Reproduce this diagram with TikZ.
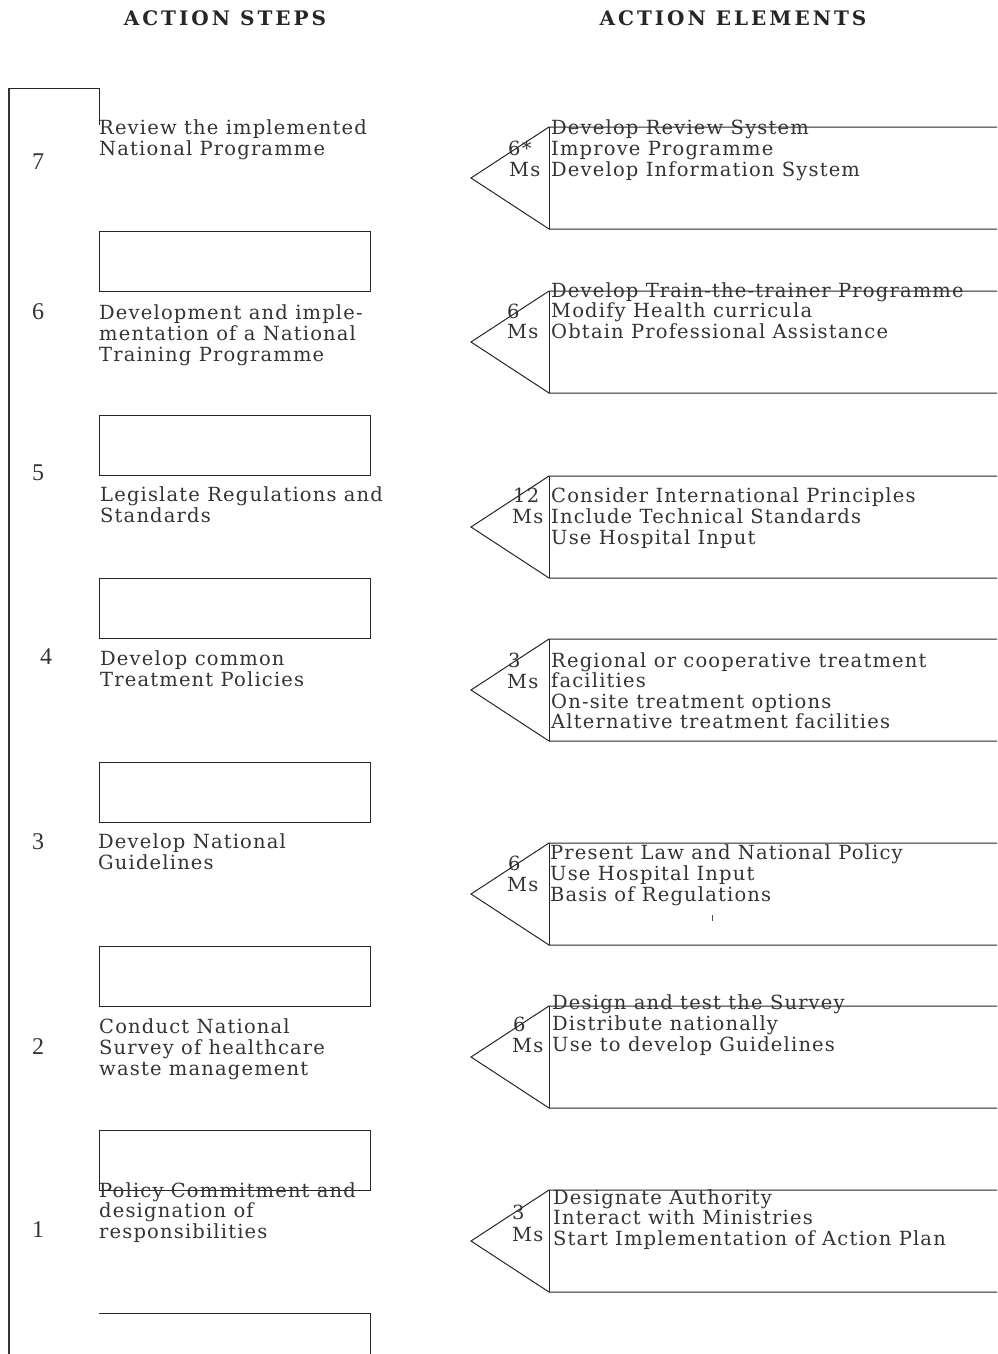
\documentclass[tikz,border=0pt]{standalone}
\usepackage{fontspec}
\setmainfont{Liberation Serif}
\newfontfamily\spacedfont[LetterSpace=6]{DejaVu Serif}
\newfontfamily\headfont[LetterSpace=15]{DejaVu Serif}
\definecolor{txt}{HTML}{333333}
\tikzset{
  body/.style={font=\spacedfont\fontsize{19.5}{21}\selectfont, text=txt, inner sep=0pt, anchor=base west},
  numlbl/.style={font=\fontsize{24}{24}\selectfont, text=txt, inner sep=0pt, anchor=base},
  head/.style={font=\headfont\bfseries\fontsize{20}{20}\selectfont, text=black!85, inner sep=0pt, anchor=base},
  frame/.style={draw=black!80, line width=2pt},
  boxline/.style={draw=black!85, line width=1pt},
  arrowline/.style={draw=black!85, line width=1pt},
}
\begin{document}
\begin{tikzpicture}[x=1pt,y=-1pt]
\useasboundingbox (0,0) rectangle (997,1354);
% headers
\node[head] (h1) at (225,26) {ACTION STEPS};
\node[head] (h2) at (733,26) {ACTION ELEMENTS};
% left frame
\coordinate (f1) at (9,1354);
\coordinate (f2) at (9,88);
\coordinate (f3) at (99,88);
\coordinate (f4) at (99,125);
\draw[frame] (f1) -- (f2);
\draw[boxline] (f2) -- (f3) -- (f4);
% step boxes
\foreach \t [count=\i] in {231,415,578,762,946,1130}
  \draw[boxline] (99,\t) rectangle (370,\t+60);
\draw[boxline] (99,1313) -- (370,1313) -- (370,1354);
% step numbers
\node[numlbl] (n7) at (38,169) {7};
\node[numlbl] (n6) at (38,319) {6};
\node[numlbl] (n5) at (38,480) {5};
\node[numlbl] (n4) at (46,664) {4};
\node[numlbl] (n3) at (38,849) {3};
\node[numlbl] (n2) at (38,1054) {2};
\node[numlbl] (n1) at (38,1237) {1};
% step texts
\foreach \txt [count=\k from 0] in {Review the implemented,National Programme}
  \node[body] (s7-\k) at (99,134+21*\k) {\txt};
\foreach \txt [count=\k from 0] in {Development and imple-,mentation of a National,Training Programme}
  \node[body] (s6-\k) at (99,319+21*\k) {\txt};
\foreach \txt [count=\k from 0] in {Legislate Regulations and,Standards}
  \node[body] (s5-\k) at (100,501+21*\k) {\txt};
\foreach \txt [count=\k from 0] in {Develop common,Treatment Policies}
  \node[body] (s4-\k) at (100,665+21*\k) {\txt};
\foreach \txt [count=\k from 0] in {Develop National,Guidelines}
  \node[body] (s3-\k) at (98,848+21*\k) {\txt};
\foreach \txt [count=\k from 0] in {Conduct National,Survey of healthcare,waste management}
  \node[body] (s2-\k) at (99,1033+21*\k) {\txt};
\foreach \txt [count=\k from 0] in {Policy Commitment and,designation of,responsibilities}
  \node[body] (s1-\k) at (99,1197+20.8*\k) {\txt};
% arrows (pentagons)
\foreach \top [count=\i] in {127,291,476,639,843,1006,1190}{
  \draw[arrowline] (997,\top) -- (549,\top) -- (471,\top+51) -- (549,\top+102) -- (997,\top+102);
  \draw[arrowline] (549,\top) -- (549,\top+102);
}
% arrow texts
\foreach \txt [count=\k from 0] in {Develop Review System,Improve Programme,Develop Information System}
  \node[body] (e7-\k) at (551,134+21*\k) {\txt};
\node[body] (d7) at (508,155) {6*};
\node[body] (m7) at (509,176) {Ms};
\foreach \txt [count=\k from 0] in {Develop Train-the-trainer Programme,Modify Health curricula,Obtain Professional Assistance}
  \node[body] (e6-\k) at (551,297+20.5*\k) {\txt};
\node[body] (d6) at (507,318) {6};
\node[body] (m6) at (507,338) {Ms};
\foreach \txt [count=\k from 0] in {Consider International Principles,Include Technical Standards,Use Hospital Input}
  \node[body] (e5-\k) at (551,502+21*\k) {\txt};
\node[body] (d5) at (513,502) {12};
\node[body] (m5) at (512,523) {Ms};
\foreach \txt [count=\k from 0] in {Regional or cooperative treatment,facilities,On-site treatment options,Alternative treatment facilities}
  \node[body] (e4-\k) at (551,667+20.5*\k) {\txt};
\node[body] (d4) at (508,667) {3};
\node[body] (m4) at (507,688) {Ms};
\foreach \txt [count=\k from 0] in {Present Law and National Policy,Use Hospital Input,Basis of Regulations}
  \node[body] (e3-\k) at (550,859+21*\k) {\txt};
\node[body] (d3) at (508,870) {6};
\node[body] (m3) at (507,891) {Ms};
\coordinate (tk1) at (712,915);
\coordinate (tk2) at (712,921);
\draw[black!70, line width=0.8pt] (tk1) -- (tk2);
\foreach \txt [count=\k from 0] in {Design and test the Survey,Distribute nationally,Use to develop Guidelines}
  \node[body] (e2-\k) at (552,1009+21*\k) {\txt};
\node[body] (d2) at (513,1031) {6};
\node[body] (m2) at (512,1052) {Ms};
\foreach \txt [count=\k from 0] in {Designate Authority,Interact with Ministries,Start Implementation of Action Plan}
  \node[body] (e1-\k) at (553,1204+20.5*\k) {\txt};
\node[body] (d1) at (512,1219) {3};
\node[body] (m1) at (512,1241) {Ms};
\end{tikzpicture}
\end{document}
